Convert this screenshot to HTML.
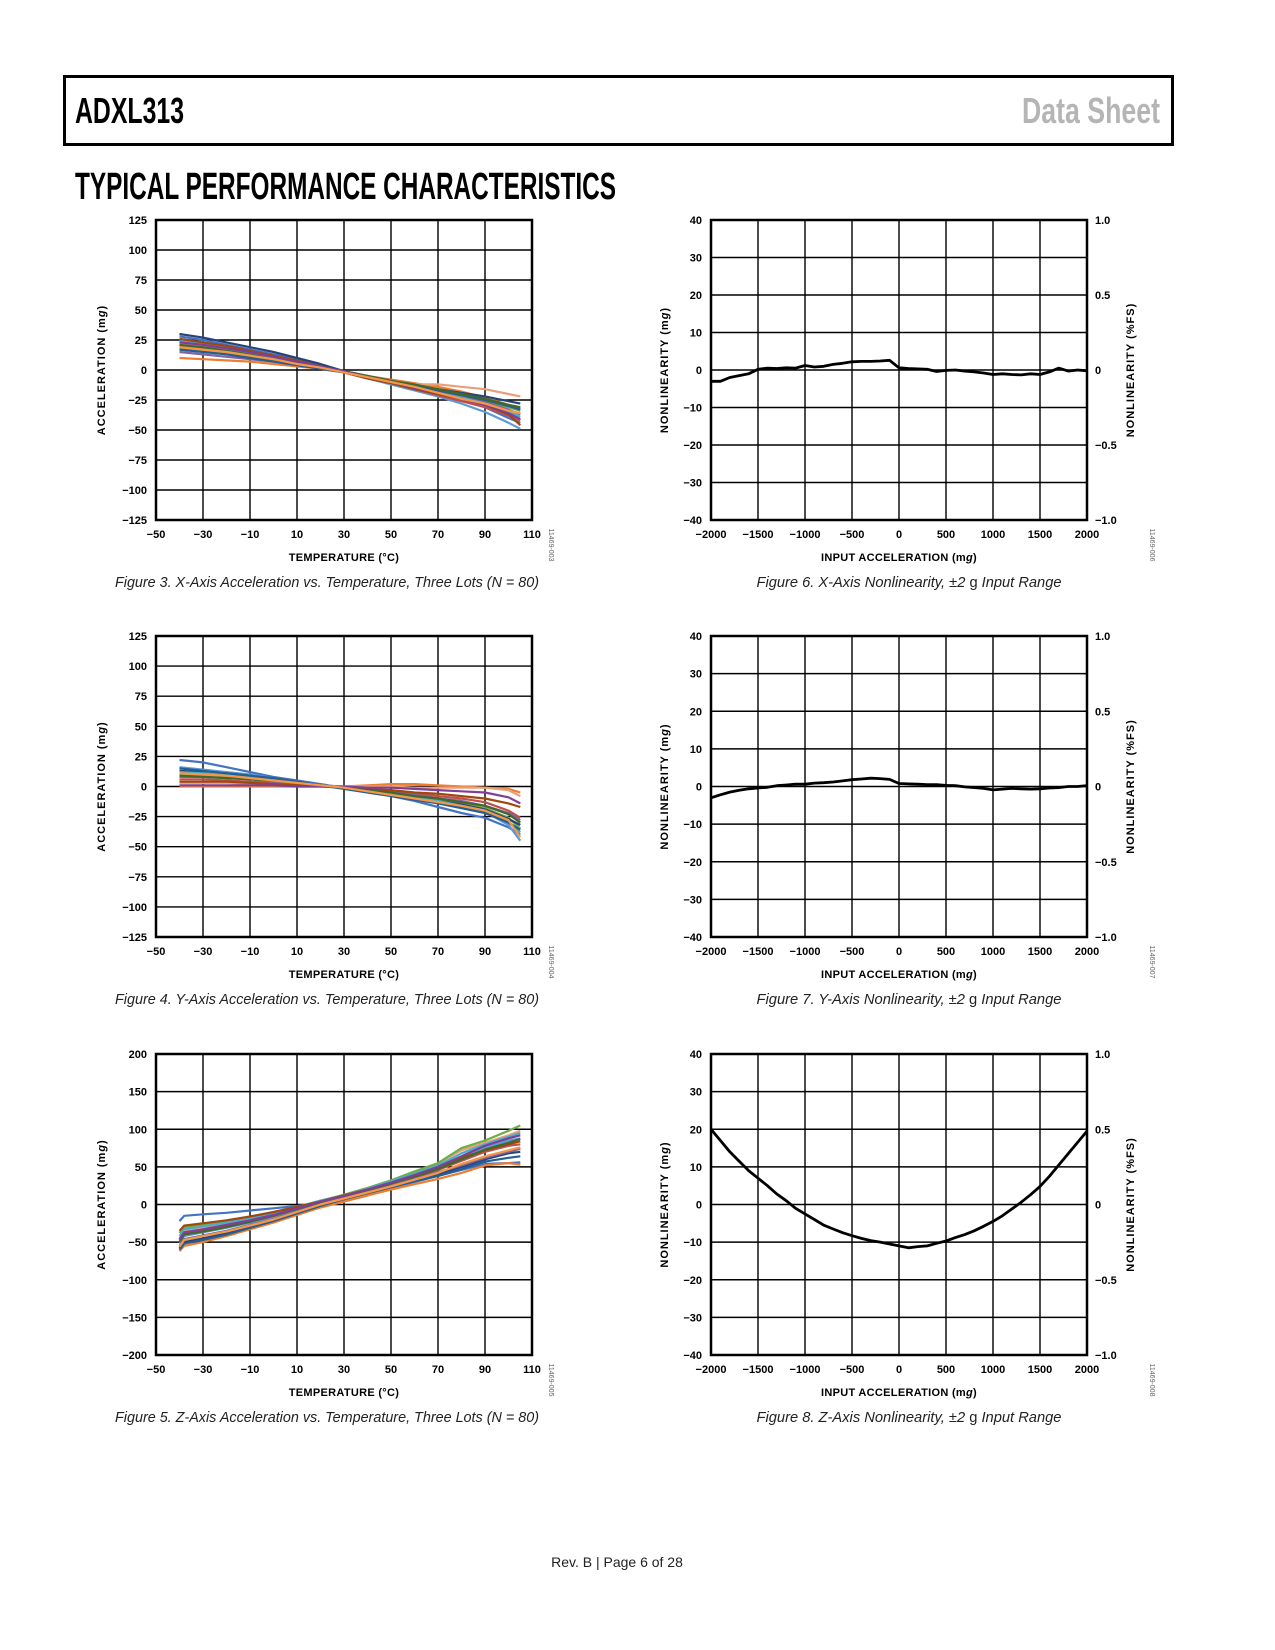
<!DOCTYPE html>
<html><head><meta charset="utf-8"><style>
html,body{margin:0;padding:0;background:#fff;}
svg{display:block;}
text{font-family:"Liberation Sans",sans-serif;}
</style></head><body>
<svg id="page" width="1275" height="1650" viewBox="0 0 1275 1650" xmlns="http://www.w3.org/2000/svg">
<rect x="0" y="0" width="1275" height="1650" fill="#fff"/>
<rect x="64.5" y="76.5" width="1108" height="68" fill="none" stroke="#000" stroke-width="3"/>
<text x="75" y="123" font-size="36" font-weight="bold" textLength="109" lengthAdjust="spacingAndGlyphs" fill="#000">ADXL313</text>
<text x="1022" y="123" font-size="36" font-weight="bold" textLength="138" lengthAdjust="spacingAndGlyphs" fill="#b5b5b5">Data Sheet</text>
<text x="75" y="199" font-size="38" font-weight="bold" textLength="541" lengthAdjust="spacingAndGlyphs" fill="#000">TYPICAL PERFORMANCE CHARACTERISTICS</text>
<text x="617" y="1567" font-size="14" text-anchor="middle" fill="#222">Rev. B | Page 6 of 28</text>
</svg>
<script>
// ---- Temperature plots data ----
const tempXs = [-40,-30,-20,-10,0,10,20,30,40,50,60,70,80,90,100,105];
const zTempXs = [-40,-38,-30,-20,-10,0,10,20,30,40,50,60,70,80,90,100,105];
const tempTicks = [-50,-30,-10,10,30,50,70,90,110];
const xyTicks = [-125,-100,-75,-50,-25,0,25,50,75,100,125];
const zTicks = [-200,-150,-100,-50,0,50,100,150,200];

const xAxisSeries = [
[28,25,21,17,13,9,4,-1,-6,-10,-15,-20,-25,-31,-40,-44],
[10,9,8,7,5,3,1,-2,-5,-8,-11,-14,-18,-23,-29,-32],
[22,20,17,14,11,7,3,-1,-5,-9,-12,-12,-14,-16,-20,-22],
[25,22,19,15,12,8,3,-2,-7,-12,-17,-22,-28,-35,-44,-49],
[18,16,14,11,8,5,2,-1,-5,-9,-13,-17,-21,-26,-31,-34],
[30,27,23,19,15,10,5,-1,-5,-9,-13,-16,-19,-22,-26,-28],
[20,18,15,12,9,6,2,-2,-7,-11,-16,-21,-26,-31,-38,-42],
[15,13,11,9,7,4,1,-2,-6,-10,-14,-18,-22,-27,-33,-37],
[24,21,18,14,10,6,2,-2,-6,-11,-15,-19,-23,-28,-35,-39],
[26,23,20,16,12,8,3,-2,-7,-11,-16,-20,-24,-29,-37,-46],
[17,15,13,10,7,4,1,-2,-6,-9,-13,-17,-21,-25,-30,-33],
[21,19,16,13,9,6,2,-1,-5,-9,-12,-16,-20,-24,-29,-31],
[23,21,18,15,11,7,3,-1,-6,-10,-15,-19,-24,-29,-36,-41],
[19,17,15,12,9,5,2,-2,-6,-10,-14,-19,-24,-28,-34,-36]
];
const yAxisSeries = [
[22,20,16,12,8,5,2,-1,-4,-8,-12,-17,-22,-26,-34,-40],
[0,0,0,0,0,0,0,0,1,2,2,1,0,-1,-2,-5],
[3,3,3,2,2,1,1,0,0,0,-1,-1,-1,-1,-3,-8],
[16,14,12,10,7,4,1,-1,-4,-7,-10,-13,-17,-21,-32,-45],
[10,9,8,7,5,3,1,-1,-3,-6,-8,-11,-14,-18,-26,-35],
[13,12,11,9,6,4,1,-1,-3,-6,-9,-12,-15,-19,-27,-32],
[6,6,5,4,3,2,1,-1,-2,-4,-6,-8,-10,-13,-20,-26],
[8,8,7,6,4,3,1,-1,-3,-5,-7,-10,-12,-16,-22,-28],
[12,11,10,8,6,3,1,-1,-3,-6,-9,-12,-16,-20,-30,-38],
[4,4,4,3,2,1,0,-1,-2,-3,-5,-6,-8,-10,-14,-17],
[15,13,11,9,7,4,1,-2,-5,-8,-11,-14,-18,-22,-30,-36],
[9,8,7,6,5,3,1,-1,-3,-5,-8,-10,-13,-16,-23,-30],
[1,1,1,1,1,0,0,0,-1,-1,-2,-3,-4,-5,-9,-14],
[11,10,9,7,5,3,1,-1,-4,-7,-10,-13,-16,-20,-28,-42]
];
const zAxisSeries = [
[-22,-15,-13,-11,-8,-5,-2,2,7,14,22,30,38,46,54,55,56],
[-62,-55,-50,-42,-33,-24,-14,-4,4,12,20,27,34,42,52,55,53],
[-45,-35,-31,-26,-20,-13,-4,5,12,20,30,42,55,72,82,92,98],
[-52,-42,-37,-31,-24,-16,-7,3,11,19,28,38,49,62,75,85,88],
[-38,-30,-27,-22,-17,-11,-3,5,13,22,32,44,55,75,85,98,105],
[-58,-50,-45,-38,-30,-21,-11,-1,8,16,24,32,40,50,60,68,70],
[-48,-38,-34,-28,-22,-15,-6,3,10,18,27,36,46,58,70,78,80],
[-55,-46,-41,-35,-27,-19,-9,1,9,17,25,34,43,52,62,70,74],
[-42,-33,-29,-24,-18,-12,-4,5,12,21,31,41,52,68,80,90,95],
[-35,-28,-25,-21,-16,-10,-3,4,12,20,29,39,50,62,72,80,84],
[-60,-52,-47,-40,-31,-22,-12,-2,7,15,23,31,38,47,57,62,64],
[-50,-40,-36,-30,-23,-15,-6,3,11,19,28,37,47,60,73,82,87],
[-46,-37,-33,-27,-21,-14,-5,4,11,20,29,39,50,64,78,88,92],
[-56,-47,-42,-36,-28,-20,-10,0,8,16,24,33,42,54,64,72,76]
];
// ---- Nonlinearity plots data ----
const nlXs = [-2000,-1900,-1800,-1700,-1600,-1500,-1400,-1300,-1200,-1100,-1000,-900,-800,-700,-600,-500,-400,-300,-200,-100,0,100,200,300,400,500,600,700,800,900,1000,1100,1200,1300,1400,1500,1600,1700,1800,1900,2000];
const nlXTicks = [-2000,-1500,-1000,-500,0,500,1000,1500,2000];
const nlYTicks = [-40,-30,-20,-10,0,10,20,30,40];
const fsTicks = ["−1.0","−0.5","0","0.5","1.0"];
const xNonlin = [-3,-3,-2,-1.5,-1,0.2,0.5,0.4,0.6,0.5,1.2,0.8,1.0,1.5,1.8,2.2,2.3,2.3,2.4,2.6,0.6,0.4,0.3,0.2,-0.4,-0.1,0,-0.3,-0.5,-0.8,-1.2,-1,-1.2,-1.3,-1,-1.2,-0.5,0.5,-0.3,0,-0.2];
const yNonlin = [-3,-2.2,-1.5,-1,-0.6,-0.4,-0.2,0.2,0.4,0.6,0.6,0.9,1.0,1.2,1.5,1.8,2,2.2,2.1,1.9,0.8,0.7,0.6,0.5,0.5,0.3,0.2,-0.1,-0.3,-0.5,-0.9,-0.7,-0.5,-0.6,-0.7,-0.6,-0.4,-0.3,0,0,0.2];
const zNonlin = [20,17,14,11.5,9,7,5,2.8,1,-1,-2.5,-4,-5.5,-6.5,-7.5,-8.3,-9,-9.6,-10,-10.5,-11,-11.5,-11.2,-11,-10.3,-9.7,-8.8,-8,-7,-5.8,-4.5,-3,-1.2,0.6,2.6,4.8,7.5,10.5,13.5,16.5,19.5];

const palette = ['#4472c4','#ed7d31','#e8a07a','#5b9bd5','#70ad47','#264478','#c0504d','#8064a2','#4bacc6','#9e480e','#255e91','#43682b','#7f3f98','#f79646'];
const NS = 'http://www.w3.org/2000/svg';
const page = document.getElementById('page');
function el(tag, attrs, parent){
  const e = document.createElementNS(NS, tag);
  for (const k in attrs) e.setAttribute(k, attrs[k]);
  (parent||page).appendChild(e);
  return e;
}
function fmt(v){ return v<0 ? '\u2212'+Math.abs(v) : String(v); }

function drawPlot(cfg){
  const g = el('g', {});
  
  
  const L=cfg.left, R=cfg.right, T=cfg.top, B=cfg.bottom;
  const xs = v => L + (v - cfg.xmin) / (cfg.xmax - cfg.xmin) * (R - L);
  const ys = v => B - (v - cfg.ymin) / (cfg.ymax - cfg.ymin) * (B - T);
  cfg.xTicks.forEach(t => {
    const ln = el('line', {x1:xs(t), x2:xs(t), y1:T, y2:B, stroke:'#000', 'stroke-width':1.4}, g);
    
    
    const tx = el('text', {x:xs(t), y:B+18, 'font-size':11, 'font-weight':'bold', 'text-anchor':'middle'}, g);
    tx.textContent = fmt(t);
    
    
  });
  cfg.yTicks.forEach(t => {
    const ln = el('line', {x1:L, x2:R, y1:ys(t), y2:ys(t), stroke:'#000', 'stroke-width':1.4}, g);
    
    
    const tx = el('text', {x:L-9, y:ys(t)+4, 'font-size':11, 'font-weight':'bold', 'text-anchor':'end'}, g);
    tx.textContent = fmt(t);
    
    
  });
  if (cfg.rightTicks){
    cfg.rightTicks.forEach((t,i) => {
      const yy = T + (B-T) * (1 - i/(cfg.rightTicks.length-1));
      const tx = el('text', {x:R+8, y:yy+4, 'font-size':11, 'font-weight':'bold'}, g);
      tx.textContent = t;
      
      
    });
    const rt = el('text', {x:0, y:0, 'font-size':11, 'font-weight':'bold', 'text-anchor':'middle', 'letter-spacing':'1', transform:`translate(${R+47},${(T+B)/2}) rotate(-90)`}, g);
    rt.textContent = 'NONLINEARITY (%FS)';
    
    
  }
  cfg.series.forEach((s,i) => {
    const pts = s.map((v,j) => xs(cfg.xData[j]).toFixed(1)+','+ys(v).toFixed(1)).join(' ');
    const pl = el('polyline', {points:pts, fill:'none', stroke: cfg.black ? '#000' : palette[i % palette.length], 'stroke-width': cfg.black ? 2.8 : 2.2, 'stroke-linejoin':'round'}, g);
    
    
  });
  const fr = el('rect', {x:L, y:T, width:R-L, height:B-T, fill:'none', stroke:'#000', 'stroke-width':2.5}, g);
  
  
  const xt = el('text', {x:(L+R)/2, y:B+41, 'font-size':11, 'font-weight':'bold', 'text-anchor':'middle', 'letter-spacing':'0.3'}, g);
  xt.innerHTML = cfg.xTitle;
  
  
  const yt = el('text', {x:0, y:0, 'font-size':11, 'font-weight':'bold', 'text-anchor':'middle', 'letter-spacing':'1', transform:`translate(${cfg.yTitleX},${(T+B)/2}) rotate(-90)`}, g);
  yt.innerHTML = cfg.yTitle;
  
  
  const id = el('text', {x:0, y:0, 'font-size':7, fill:'#666', 'text-anchor':'middle', transform:`translate(${cfg.idX},${B+25}) rotate(90)`}, g);
  id.textContent = cfg.id;
  
  
  const cap = el('text', {x:cfg.capX, y:B+67, 'font-size':15, 'font-style':'italic', 'text-anchor':'middle', textLength:cfg.capW, lengthAdjust:'spacingAndGlyphs', fill:'#222'}, g);
  cap.innerHTML = cfg.caption;
  
  
}

const tempTitle = 'TEMPERATURE (°C)';
const accTitle = 'ACCELERATION (m<tspan font-style="italic">g</tspan>)';
const nlTitle = 'NONLINEARITY (m<tspan font-style="italic">g</tspan>)';
const inTitle = 'INPUT ACCELERATION (m<tspan font-style="italic">g</tspan>)';
const LEFT = {left:156, right:532, yTitleX:105, idX:549, capX:327, capW:424};
const RIGHT = {left:711, right:1087, yTitleX:668, idX:1150, capX:909, capW:305};
const rows = [{top:220,bottom:520},{top:636,bottom:937},{top:1054,bottom:1355}];

drawPlot(Object.assign({}, LEFT, rows[0], {name:'figure-3-x-accel-vs-temp', xmin:-50,xmax:110,ymin:-125,ymax:125, xTicks:tempTicks, yTicks:xyTicks, xData:tempXs, series:xAxisSeries, xTitle:tempTitle, yTitle:accTitle, id:'11469-003', caption:'Figure 3. X-Axis Acceleration vs. Temperature, Three Lots (N = 80)'}));
drawPlot(Object.assign({}, LEFT, rows[1], {name:'figure-4-y-accel-vs-temp', xmin:-50,xmax:110,ymin:-125,ymax:125, xTicks:tempTicks, yTicks:xyTicks, xData:tempXs, series:yAxisSeries, xTitle:tempTitle, yTitle:accTitle, id:'11469-004', caption:'Figure 4. Y-Axis Acceleration vs. Temperature, Three Lots (N = 80)'}));
drawPlot(Object.assign({}, LEFT, rows[2], {name:'figure-5-z-accel-vs-temp', xmin:-50,xmax:110,ymin:-200,ymax:200, xTicks:tempTicks, yTicks:zTicks, xData:zTempXs, series:zAxisSeries, xTitle:tempTitle, yTitle:accTitle, id:'11469-005', caption:'Figure 5. Z-Axis Acceleration vs. Temperature, Three Lots (N = 80)'}));
drawPlot(Object.assign({}, RIGHT, rows[0], {name:'figure-6-x-nonlinearity', black:true, xmin:-2000,xmax:2000,ymin:-40,ymax:40, xTicks:nlXTicks, yTicks:nlYTicks, rightTicks:fsTicks, xData:nlXs, series:[xNonlin], xTitle:inTitle, yTitle:nlTitle, id:'11469-006', caption:'Figure 6. X-Axis Nonlinearity, ±2 <tspan font-style="normal">g</tspan> Input Range'}));
drawPlot(Object.assign({}, RIGHT, rows[1], {name:'figure-7-y-nonlinearity', black:true, xmin:-2000,xmax:2000,ymin:-40,ymax:40, xTicks:nlXTicks, yTicks:nlYTicks, rightTicks:fsTicks, xData:nlXs, series:[yNonlin], xTitle:inTitle, yTitle:nlTitle, id:'11469-007', caption:'Figure 7. Y-Axis Nonlinearity, ±2 <tspan font-style="normal">g</tspan> Input Range'}));
drawPlot(Object.assign({}, RIGHT, rows[2], {name:'figure-8-z-nonlinearity', black:true, xmin:-2000,xmax:2000,ymin:-40,ymax:40, xTicks:nlXTicks, yTicks:nlYTicks, rightTicks:fsTicks, xData:nlXs, series:[zNonlin], xTitle:inTitle, yTitle:nlTitle, id:'11469-008', caption:'Figure 8. Z-Axis Nonlinearity, ±2 <tspan font-style="normal">g</tspan> Input Range'}));
</script>
</body></html>
